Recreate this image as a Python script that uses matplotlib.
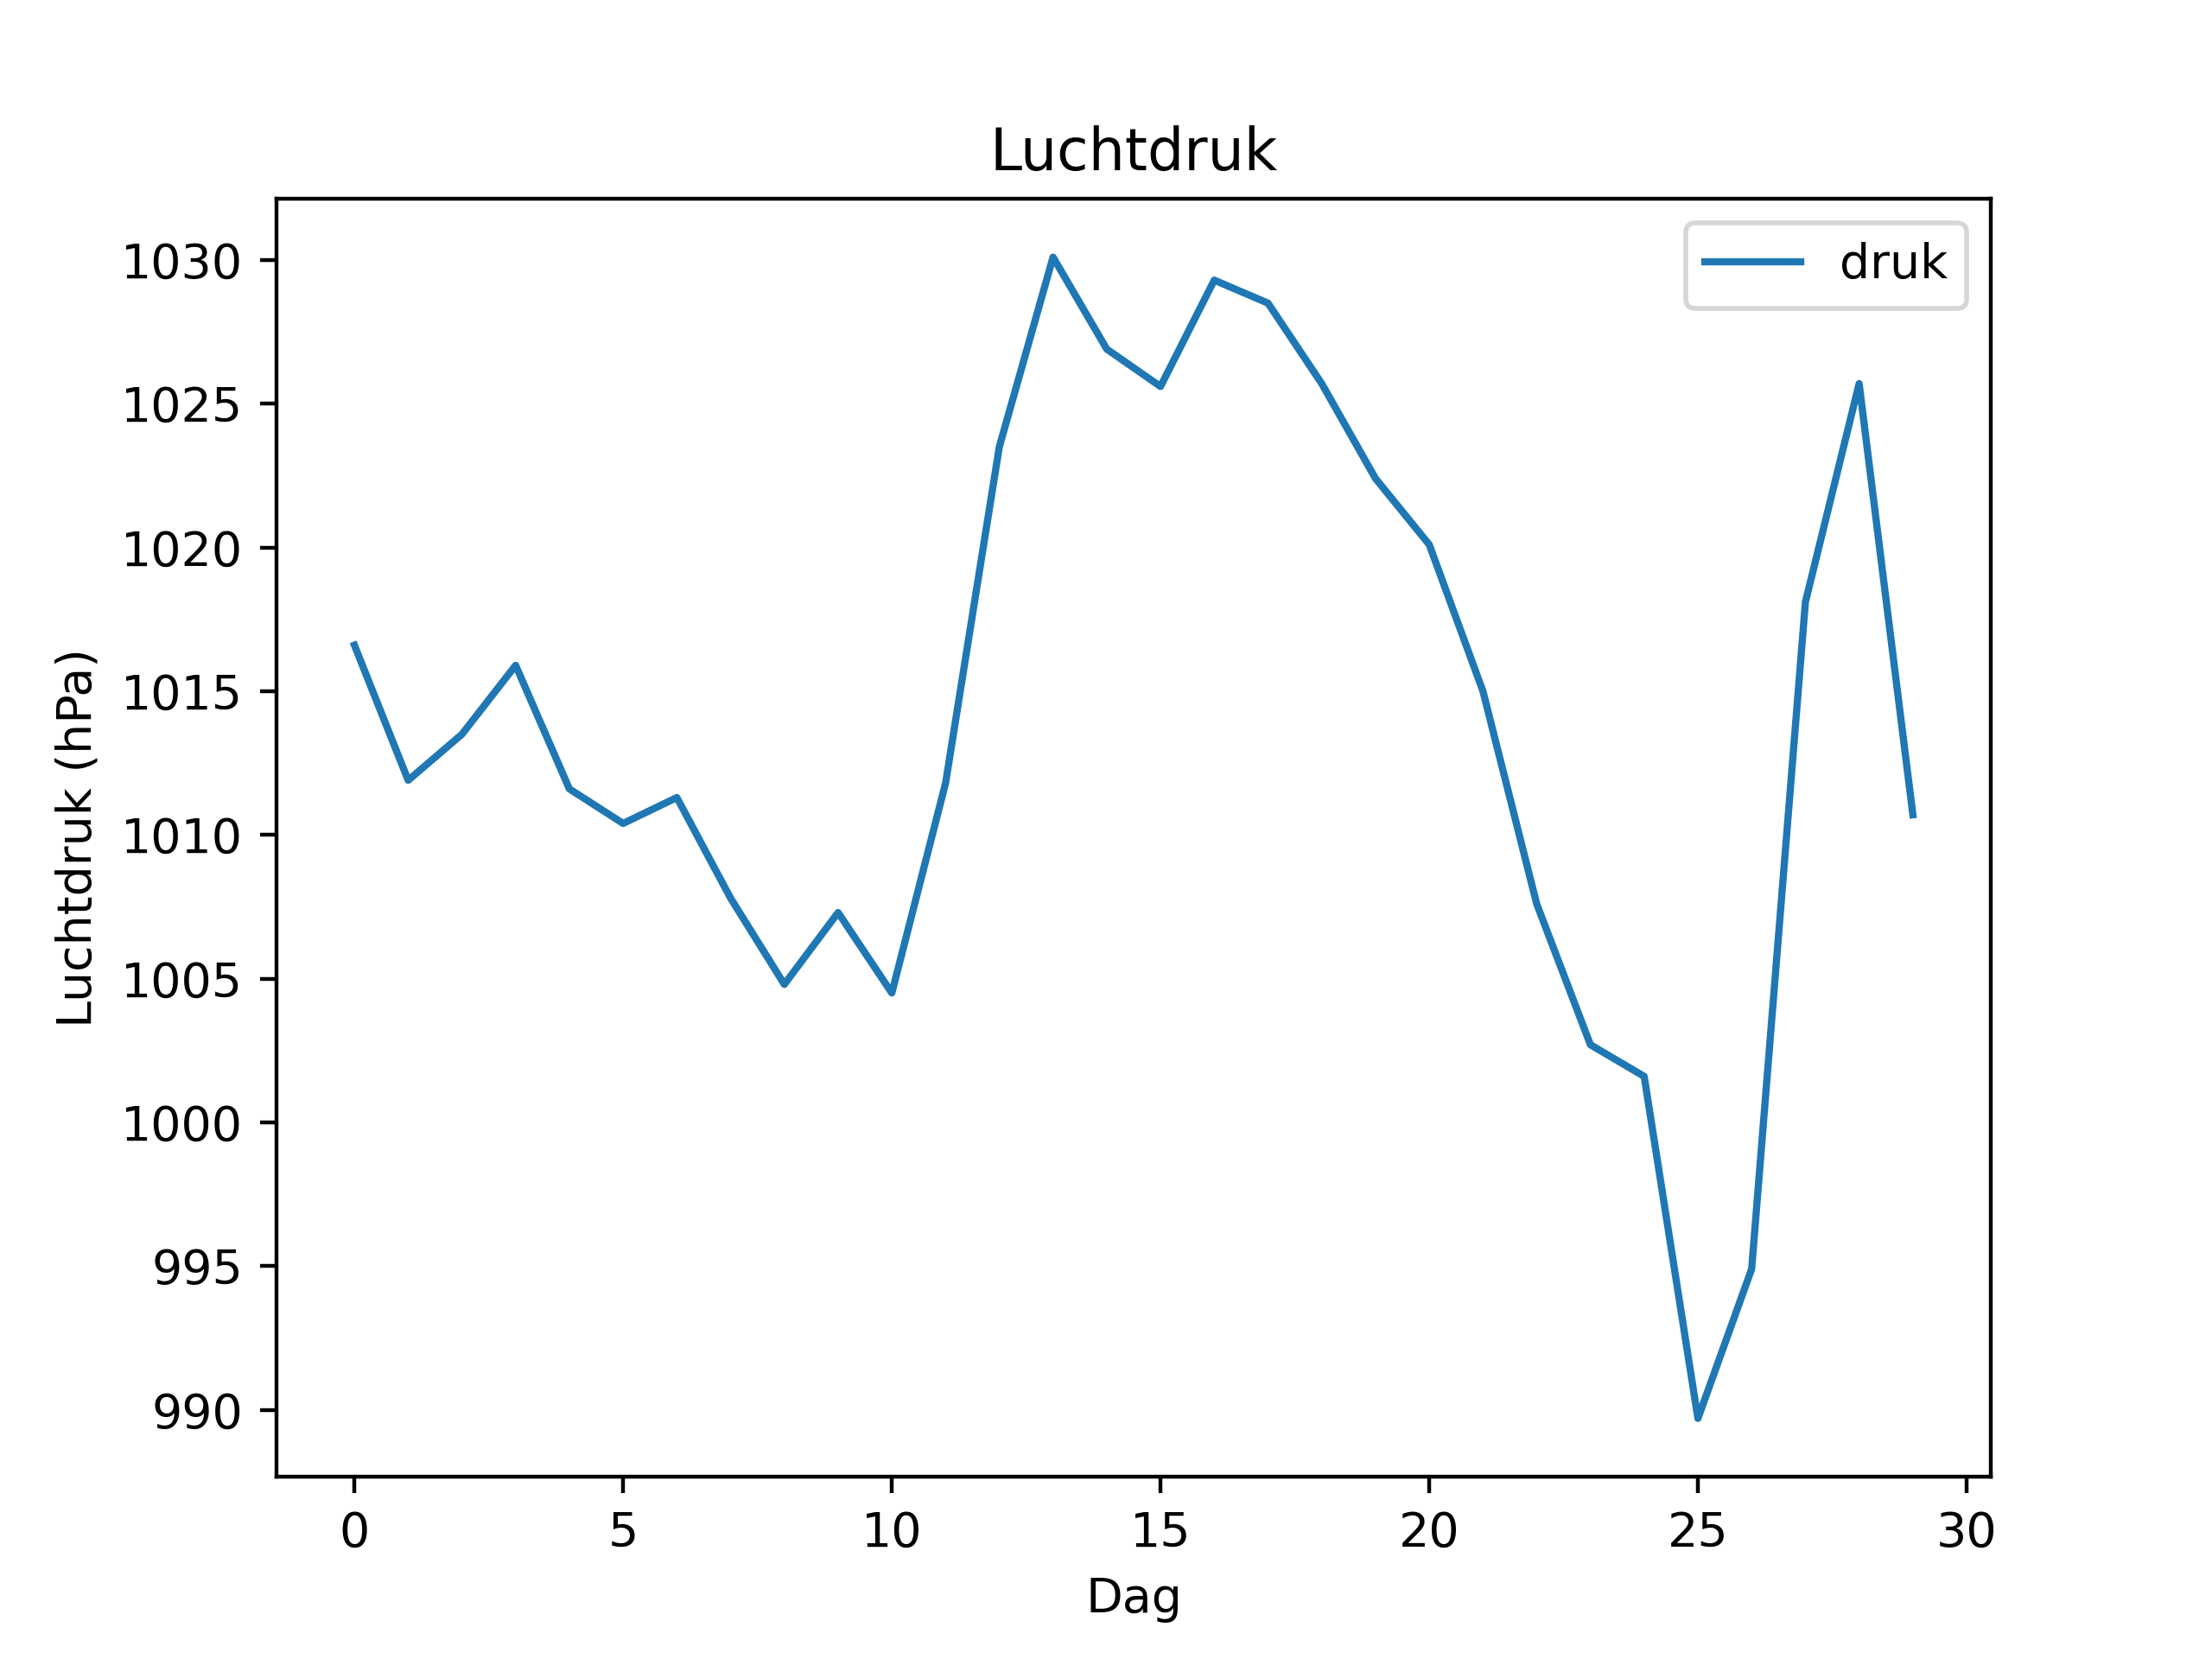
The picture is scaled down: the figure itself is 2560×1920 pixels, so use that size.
import matplotlib
matplotlib.use("Agg")
import matplotlib.pyplot as plt

# Dagelijkse luchtdruk (hPa)
dag = list(range(30))
druk = [1016.6, 1011.9, 1013.5, 1015.9, 1011.6, 1010.4, 1011.3, 1007.8, 1004.8, 1007.3,
        1004.5, 1011.8, 1023.5, 1030.1, 1026.9, 1025.6, 1029.3, 1028.5, 1025.7, 1022.4,
        1020.1, 1015.0, 1007.6, 1002.7, 1001.6, 989.7, 994.9, 1018.1, 1025.7, 1010.7]

fig, ax = plt.subplots(figsize=(6.4, 4.8))
ax.plot(dag, druk, label='druk')
ax.set_title('Luchtdruk')
ax.set_xlabel('Dag')
ax.set_ylabel('Luchtdruk (hPa)')
ax.legend()
fig.savefig('out.png', dpi=400)
